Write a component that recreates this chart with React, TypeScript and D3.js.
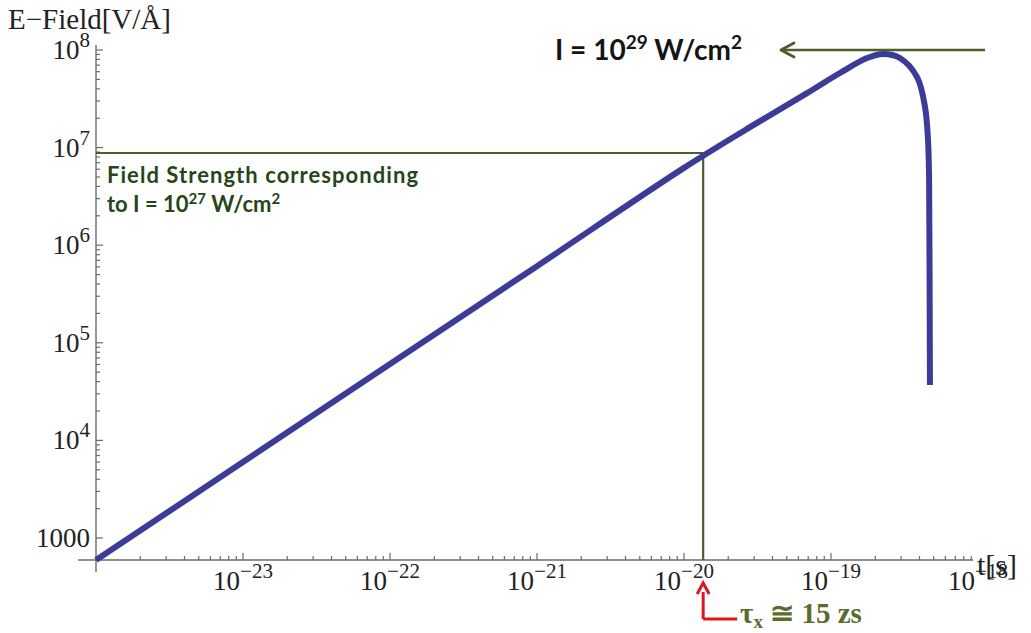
import React, { useEffect, useRef } from 'react';
import * as d3 from 'd3';

// curve: t [s] vs E-field [V/Å]
const timeValues = [1e-24, 1e-23, 1e-22, 1e-21, 1e-20, 3.14e-20, 6.87e-20, 1.15e-19, 1.76e-19, 2.26e-19, 2.94e-19, 3.85e-19, 4.36e-19, 4.57e-19, 4.65e-19, 4.68e-19, 4.71e-19];
const fieldValues = [596, 6.0e3, 6.05e4, 6.1e5, 6.2e6, 1.79e7, 3.62e7, 5.81e7, 8.28e7, 9.1e7, 8.28e7, 5.28e7, 2.61e7, 1.2e7, 4.66e6, 6.58e5, 3.7e4];

const xTickExponents = [-23, -22, -21, -20, -19, -18];
const yTickExponents = [3, 4, 5, 6, 7, 8];

// reference guides
const markTime = 1.35e-20;   // ~15 zs
const markField = 8.8e6;     // field for 1e27 W/cm^2
const peakField = 1e8;       // field for 1e29 W/cm^2

const W = 1031, H = 633;
const axisColor = '#6b6b6b';
const curveColor = '#3b3b98';
const guideColor = '#4e5e2b';

const App = () => {
    const ref = useRef<SVGSVGElement>(null);

    useEffect(() => {
        const svg = d3.select(ref.current);
        svg.selectAll('*').remove();

        const xScale = d3.scaleLog().domain([1e-24, 1e-18]).range([96, 978]);
        const yScale = d3.scaleLog().domain([1e3, 1e8]).range([538, 50]);
        const x0 = 96, y0 = 560, xEnd = 973, yTop = 45;

        const serif = "'Liberation Serif', 'DejaVu Serif', serif";
        const sans = "Lato, 'Open Sans', sans-serif";

        // axes lines
        svg.append('line').attr('x1', 78).attr('x2', xEnd).attr('y1', y0).attr('y2', y0)
            .attr('stroke', axisColor).attr('stroke-width', 1.4);
        svg.append('line').attr('x1', x0).attr('x2', x0).attr('y1', 572).attr('y2', yTop)
            .attr('stroke', axisColor).attr('stroke-width', 1.4);

        // x ticks
        const xt = xScale.ticks().filter(t => xScale(t) > x0 + 1 && xScale(t) <= xEnd);
        svg.append('g').selectAll('line').data(xt).enter().append('line')
            .attr('x1', d => xScale(d)).attr('x2', d => xScale(d))
            .attr('y1', y0)
            .attr('y2', d => Math.abs(Math.log10(d) - Math.round(Math.log10(d))) < 1e-6 ? y0 - 7 : y0 - 4)
            .attr('stroke', axisColor).attr('stroke-width', 1.2);

        // y ticks
        const yt = yScale.ticks().filter(t => yScale(t) < y0 - 1 && yScale(t) >= yTop);
        svg.append('g').selectAll('line').data(yt).enter().append('line')
            .attr('y1', d => yScale(d)).attr('y2', d => yScale(d))
            .attr('x1', x0)
            .attr('x2', d => Math.abs(Math.log10(d) - Math.round(Math.log10(d))) < 1e-6 ? x0 + 7 : x0 + 4)
            .attr('stroke', axisColor).attr('stroke-width', 1.2);

        // x tick labels
        const xl = svg.append('g').selectAll('text').data(xTickExponents).enter().append('text')
            .attr('x', d => xScale(Math.pow(10, d)))
            .attr('y', 590)
            .attr('text-anchor', 'middle')
            .attr('font-family', serif).attr('font-size', 27).attr('fill', '#222');
        xl.append('tspan').text('10');
        xl.append('tspan').attr('dy', -12).attr('font-size', 21).text(d => '\u2212' + Math.abs(d));

        // y tick labels
        const yl = svg.append('g').selectAll('text').data(yTickExponents).enter().append('text')
            .attr('x', 90)
            .attr('y', d => yScale(Math.pow(10, d)) + 9)
            .attr('text-anchor', 'end')
            .attr('font-family', serif).attr('font-size', 27).attr('fill', '#222');
        yl.filter(d => d === 3).append('tspan').text('1000');
        yl.filter(d => d !== 3).append('tspan').text('10');
        yl.filter(d => d !== 3).append('tspan').attr('dy', -12).attr('font-size', 21).text(d => String(d));

        // axis titles
        svg.append('text').attr('x', 8).attr('y', 29)
            .attr('font-family', serif).attr('font-size', 29).attr('fill', '#222')
            .text('E\u2212Field[V/\u00C5]');
        svg.append('text').attr('x', 977).attr('y', 575)
            .attr('font-family', serif).attr('font-size', 30).attr('fill', '#222')
            .text('t[s]');

        // guide lines
        const gx = xScale(markTime), gy = yScale(markField);
        svg.append('line').attr('x1', x0).attr('x2', gx).attr('y1', gy).attr('y2', gy)
            .attr('stroke', guideColor).attr('stroke-width', 2.2);
        svg.append('line').attr('x1', gx).attr('x2', gx).attr('y1', gy).attr('y2', y0)
            .attr('stroke', guideColor).attr('stroke-width', 2.2);

        // curve
        const pts: [number, number][] = timeValues.map((t, i) => [xScale(t), yScale(fieldValues[i])]);
        const line = d3.line().curve(d3.curveCatmullRom.alpha(0.5));
        svg.append('path').attr('d', line(pts))
            .attr('fill', 'none').attr('stroke', curveColor).attr('stroke-width', 6)
            .attr('stroke-linejoin', 'round');

        // top arrow
        const py = yScale(peakField);
        svg.append('line').attr('x1', 985).attr('x2', 782).attr('y1', py).attr('y2', py)
            .attr('stroke', guideColor).attr('stroke-width', 2.5);
        svg.append('path').attr('d', `M794,${py - 7} L781,${py} L794,${py + 7}`)
            .attr('fill', 'none').attr('stroke', guideColor).attr('stroke-width', 2.8)
            .attr('stroke-linecap', 'round').attr('stroke-linejoin', 'round');

        const top = svg.append('text').attr('x', 555).attr('y', 60)
            .attr('font-family', sans).attr('font-weight', 700).attr('font-size', 28).attr('fill', '#151515');
        top.append('tspan').text('I = 10');
        top.append('tspan').attr('dy', -11).attr('font-size', 19).text('29');
        top.append('tspan').attr('dy', 11).text(' W/cm');
        top.append('tspan').attr('dy', -11).attr('font-size', 19).text('2');

        // left note
        const noteColor = '#26461a';
        svg.append('text').attr('x', 107).attr('y', 183)
            .attr('font-family', sans).attr('font-weight', 700).attr('font-size', 22).attr('fill', noteColor)
            .attr('textLength', 311).attr('lengthAdjust', 'spacing')
            .text('Field Strength corresponding');
        const n2 = svg.append('text').attr('x', 107).attr('y', 212)
            .attr('font-family', sans).attr('font-weight', 700).attr('font-size', 22).attr('fill', noteColor);
        n2.append('tspan').text('to I = 10');
        n2.append('tspan').attr('dy', -8).attr('font-size', 15).text('27');
        n2.append('tspan').attr('dy', 8).text(' W/cm');
        n2.append('tspan').attr('dy', -8).attr('font-size', 15).text('2');

        // red arrow to tau
        const red = '#e3141c';
        svg.append('path').attr('d', `M${gx},619 L${gx},592 M${gx},619 L${gx + 34},619`)
            .attr('fill', 'none').attr('stroke', red).attr('stroke-width', 3);
        svg.append('path').attr('d', `M${gx - 6},594 L${gx},583 L${gx + 6},594`)
            .attr('fill', 'none').attr('stroke', red).attr('stroke-width', 3)
            .attr('stroke-linejoin', 'miter');

        const tau = svg.append('text').attr('x', 740).attr('y', 623)
            .attr('font-family', serif).attr('font-weight', 700).attr('font-size', 29).attr('fill', '#5c6b2e');
        tau.append('tspan').text('\u03C4');
        tau.append('tspan').attr('dy', 5).attr('font-size', 19).text('x');
        tau.append('tspan').attr('dy', -5).text(' \u2245 15 zs');
    }, []);

    return <svg ref={ref} width={W} height={H}
        style={{ position: 'absolute', left: 0, top: 0, background: '#ffffff' }} />;
};

export default App;
